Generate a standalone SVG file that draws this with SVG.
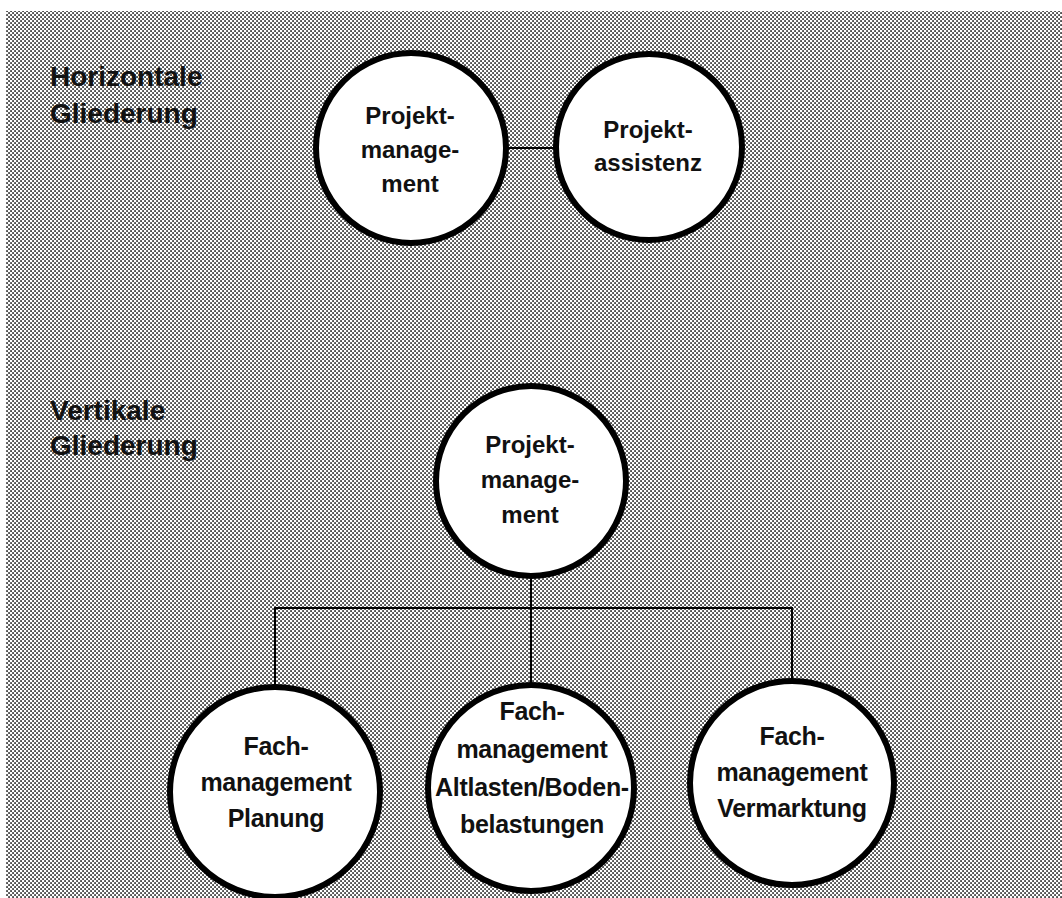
<svg xmlns="http://www.w3.org/2000/svg" width="1062" height="898" viewBox="0 0 1062 898">
  <defs>
    <!-- halftone screen used for the grey backdrop -->
    <pattern id="screen" width="4" height="4" patternUnits="userSpaceOnUse">
      <rect width="4" height="4" fill="#ffffff"/>
      <rect x="0.2" y="0.2" width="1.7" height="1.7" fill="#262626"/>
      <rect x="2.2" y="2.2" width="1.7" height="1.7" fill="#262626"/>
    </pattern>
    <style>
      .node { fill: #ffffff; stroke: #000000; stroke-width: 6; }
      .link { fill: none; stroke: #000000; stroke-width: 2; }
      .lbl { font-family: "Liberation Sans", Arial, sans-serif; font-weight: bold; fill: #111111; text-anchor: middle; }
      .top { font-size: 24px; }
      .bot { font-size: 25px; letter-spacing: -0.3px; }
      .head { font-family: "Liberation Sans", Arial, sans-serif; font-weight: bold; font-size: 28px; fill: #111111; }
    </style>
  </defs>

  <rect width="1062" height="898" fill="#ffffff"/>
  <rect x="6" y="11" width="1056" height="887" fill="url(#screen)"/>

  <!-- section headings -->
  <g id="heading-horizontal">
    <text class="head" x="50" y="86">Horizontale</text>
    <text class="head" x="50" y="123">Gliederung</text>
  </g>
  <g id="heading-vertical">
    <text class="head" x="50" y="420">Vertikale</text>
    <text class="head" x="50" y="455">Gliederung</text>
  </g>

  <!-- connectors -->
  <g id="connectors">
    <line class="link" x1="505" y1="148" x2="558" y2="148"/>
    <line class="link" x1="531" y1="575" x2="531" y2="608"/>
    <polyline class="link" points="275,695 275,608 792,608 792,685"/>
    <line class="link" x1="531" y1="608" x2="531" y2="690"/>
  </g>

  <!-- horizontal structure -->
  <g id="h-projektmanagement">
    <circle class="node" cx="411" cy="148" r="95"/>
    <text class="lbl top" x="410" y="124">Projekt-</text>
    <text class="lbl top" x="410" y="158">manage-</text>
    <text class="lbl top" x="410" y="192">ment</text>
  </g>
  <g id="h-projektassistenz">
    <circle class="node" cx="649" cy="147" r="93"/>
    <text class="lbl top" x="648" y="138">Projekt-</text>
    <text class="lbl top" x="648" y="171">assistenz</text>
  </g>

  <!-- vertical structure -->
  <g id="v-projektmanagement">
    <circle class="node" cx="531" cy="481" r="95"/>
    <text class="lbl top" x="530" y="453">Projekt-</text>
    <text class="lbl top" x="530" y="488">manage-</text>
    <text class="lbl top" x="530" y="523">ment</text>
  </g>
  <g id="v-fach-planung">
    <circle class="node" cx="275" cy="792" r="105"/>
    <text class="lbl bot" x="276" y="755">Fach-</text>
    <text class="lbl bot" x="276" y="791">management</text>
    <text class="lbl bot" x="276" y="827">Planung</text>
  </g>
  <g id="v-fach-altlasten">
    <circle class="node" cx="531" cy="788" r="103"/>
    <text class="lbl bot" x="532" y="720">Fach-</text>
    <text class="lbl bot" x="532" y="758">management</text>
    <text class="lbl bot" x="532" y="796">Altlasten/Boden-</text>
    <text class="lbl bot" x="532" y="833">belastungen</text>
  </g>
  <g id="v-fach-vermarktung">
    <circle class="node" cx="792" cy="783" r="102"/>
    <text class="lbl bot" x="792" y="745">Fach-</text>
    <text class="lbl bot" x="792" y="781">management</text>
    <text class="lbl bot" x="792" y="817">Vermarktung</text>
  </g>
</svg>
